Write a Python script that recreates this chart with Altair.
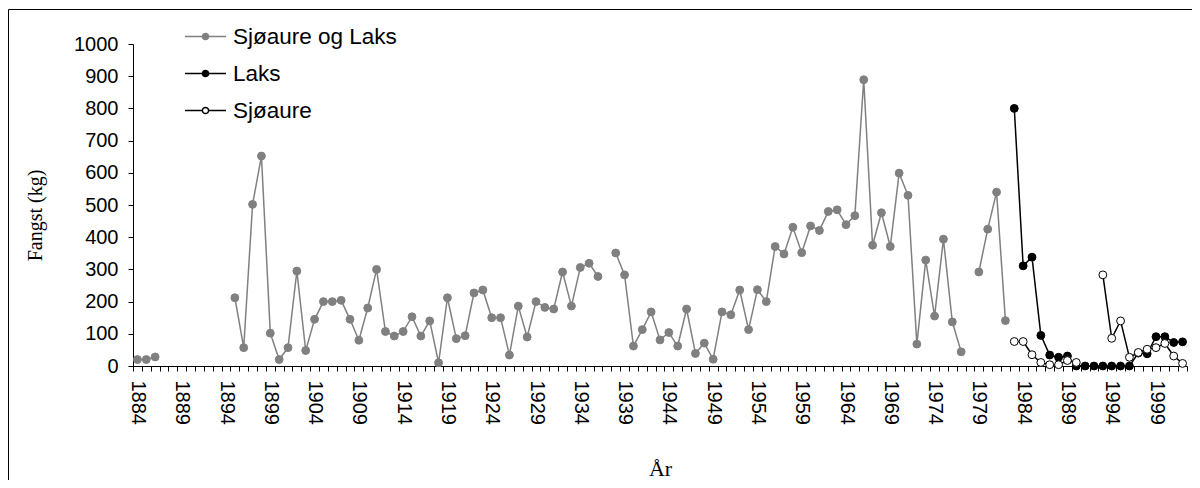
import altair as alt
import pandas as pd

years = list(range(1884, 2003))
label_years = list(range(1884, 2000, 5))
series_names = ["Sjøaure og Laks", "Laks", "Sjøaure"]

sjoaure_og_laks = (
    [20, 20, 28]
    + [None] * 8
    + [212, 57, 502, 652, 102, 20, 57, 295, 48, 145, 200, 200, 204, 145, 80,
       180, 300, 107, 93, 107, 153, 93, 140, 10, 212,
       85, 94, 227, 236, 150, 150, 34, 186, 90, 200, 182, 177, 292, 186, 306, 319, 278]
    + [None]
    + [351, 283, 62, 113, 168, 81, 104, 62, 177, 39,
       71, 21, 168, 159, 236, 113, 237, 200, 371, 348,
       431, 352, 435, 421, 480, 485, 439, 467, 889, 375,
       476, 371, 599, 530, 68, 329, 155, 394, 137, 44]
    + [None]
    + [292, 425, 540, 141]
    + [None] * 20
)
laks = [None] * 99 + [800, 311, 338, 95, 34, 27, 31, 0, 0, 0, 0, 0, 0, 0, 40, 38, 91, 91, 73, 75]
sjoaure = [None] * 99 + [76, 76, 35, 11, 4, 4, 17, 11, None, None, 283, 86, 140, 27, 42, 52, 57, 70, 31, 8]

rows = []
for name, vals in zip(series_names, [sjoaure_og_laks, laks, sjoaure]):
    seg = 0
    prev_null = True
    for yr, v in zip(years, vals):
        if v is None:
            prev_null = True
            continue
        if prev_null:
            seg += 1
            prev_null = False
        rows.append({"year": yr, "value": v, "series": name, "seg": f"{name}-{seg}"})
df = pd.DataFrame(rows)

stroke_scale = alt.Scale(domain=series_names, range=["#808080", "#000000", "#000000"])
fill_scale = alt.Scale(domain=series_names, range=["#808080", "#000000", "#ffffff"])

SYM = "M-1,0H-0.15M0.15,0H1M0.15,0A0.15,0.15,0,1,1,-0.15,0A0.15,0.15,0,1,1,0.15,0Z"
legend = alt.Legend(
    title=None, orient="none", legendX=51, legendY=-29,
    symbolType=SYM, symbolSize=1681, symbolStrokeWidth=1.5,
    labelFont="Liberation Sans", labelFontSize=22.5, labelColor="#000000",
    labelOffset=6, rowPadding=4, padding=0, labelLimit=400,
)

xscale = alt.Scale(domain=[1883.5, 2002.5], nice=False, zero=False)
tick_values = [yr - 0.5 for yr in years] + [2002.5]
tick_axis = alt.Axis(
    orient="bottom",
    values=tick_values, labels=False, ticks=True, tickSize=5, tickColor="#000000",
    domainColor="#000000", grid=False, title=None,
)
label_axis = alt.Axis(
    orient="bottom",
    values=label_years, format="d", ticks=False, domain=False, grid=False, labelAngle=90,
    labelAlign="left", labelBaseline="middle",
    labelFont="Liberation Sans", labelFontSize=20, labelColor="#000000", labelPadding=14,
    title="År", titleFont="Liberation Serif", titleFontSize=22, titleFontWeight="normal",
    titleColor="#000000", titleY=109, titleBaseline="alphabetic",
)
y_axis = alt.Axis(
    values=list(range(0, 1001, 100)), format="d", tickSize=5, tickColor="#000000",
    domainColor="#000000",
    grid=False, labelFont="Liberation Sans", labelFontSize=20, labelColor="#000000",
    labelPadding=10, title="Fangst (kg)", titleFont="Liberation Serif", titleFontSize=20,
    titleFontWeight="normal", titleColor="#000000", titleX=-98, titleY=171,
    titleAngle=270, titleBaseline="middle", titleAlign="center",
)
yscale = alt.Scale(domain=[0, 1000], nice=False)

layers = []
for i, s in enumerate(series_names):
    base = alt.Chart(df).transform_filter(alt.datum.series == s)
    line = base.mark_line(strokeWidth=1.5).encode(
        x=alt.X("year:Q", scale=xscale, axis=tick_axis if i == 0 else None),
        y=alt.Y("value:Q", scale=yscale, axis=y_axis),
        stroke=alt.Stroke("series:N", scale=stroke_scale, legend=legend),
        detail="seg:N",
    )
    pts = base.mark_point(shape="circle", opacity=1, size=62, strokeWidth=1).encode(
        x=alt.X("year:Q", scale=xscale, axis=label_axis if i == 0 else None),
        y=alt.Y("value:Q", scale=yscale, axis=y_axis),
        stroke=alt.Stroke("series:N", scale=stroke_scale, legend=legend),
        fill=alt.Fill("series:N", scale=fill_scale, legend=legend),
    )
    layers += [line, pts]

border = alt.Chart(pd.DataFrame({"b": [0]})).mark_rect(
    fillOpacity=0, stroke="#000000", strokeWidth=1, clip=False
).encode(
    x=alt.value(-124.5), x2=alt.value(1400), y=alt.value(-34.5), y2=alt.value(700)
)

chart = alt.layer(border, *layers).resolve_axis(x="independent").properties(
    width=1054, height=322,
    autosize=alt.AutoSizeParams(type="none"),
    padding={"left": 125, "top": 36, "right": 5, "bottom": 114},
).configure_view(stroke="transparent")

chart.save("out.html", embed_options={"renderer": "svg", "actions": False})
